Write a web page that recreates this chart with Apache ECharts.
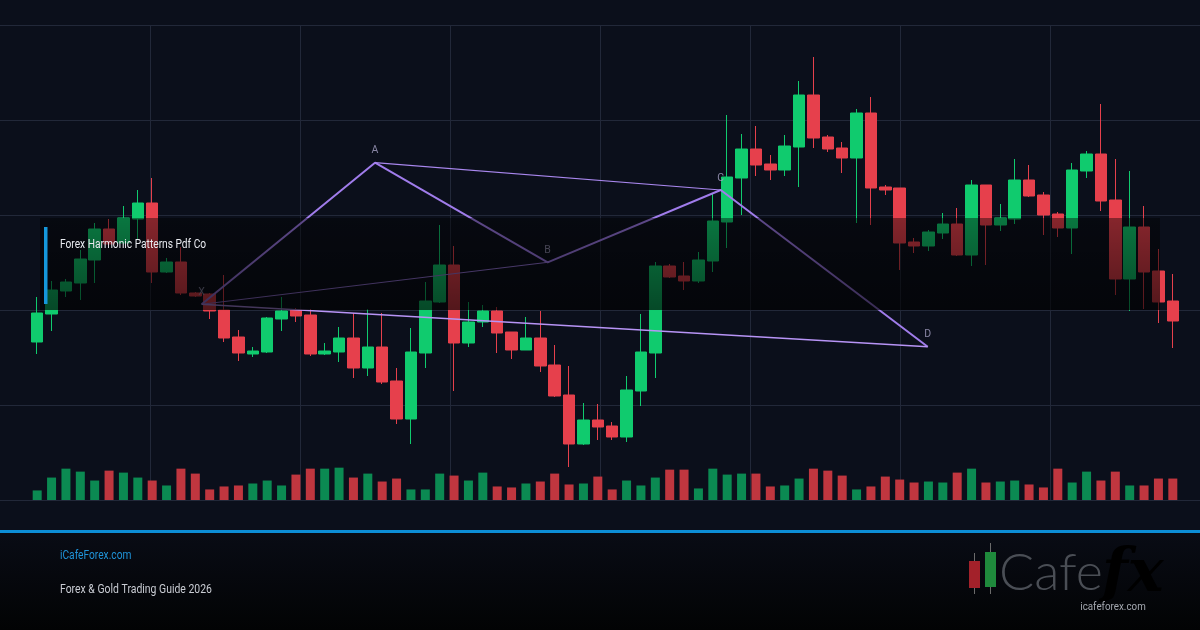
<!DOCTYPE html>
<html>
<head>
<meta charset="utf-8">
<script src="https://cdn.jsdelivr.net/npm/echarts@6/dist/echarts.min.js"></script>
<style>
  html, body { margin: 0; padding: 0; background: #0b0f1b; }
  #chart { width: 1200px; height: 630px; }
</style>
</head>
<body>
<div id="chart"></div>
<script>
// candle values (chart units, 0 = volume baseline, 475 = top gridline)
const opens  = [158,186,209,217,240,271,257,281,297,228,238,207,206,190,163,146,148,181,190,185,
                146,148,162,132,153,119,81,147,198,235,157,178,189,168,150,162,135,105,56,80,
                74,63,109,147,234,224,219,239,278,322,351,336,330,353,405,363,352,342,387,313,
                312,258,254,267,276,245,315,275,281,320,305,286,272,329,346,300,221,273,229,199];
const closes = [187,210,218,241,271,256,282,297,228,238,207,204,189,162,147,149,182,189,184,146,
                149,162,132,153,118,81,148,199,235,157,178,189,167,150,162,134,104,56,80,73,
                63,110,148,234,223,219,240,279,323,351,335,330,354,405,362,351,342,387,312,310,
                257,254,268,276,245,315,275,282,320,304,285,272,330,346,299,221,273,228,198,179];
const lows   = [146,169,203,200,217,254,255,260,217,227,205,203,181,158,139,143,147,169,178,144,
                145,138,122,124,116,76,56,132,197,109,153,173,147,141,150,128,103,33,55,60,
                60,58,94,122,222,210,217,228,252,285,324,320,324,313,352,348,327,277,275,305,
                230,247,249,261,244,234,235,269,276,303,265,263,246,322,289,205,189,191,177,152];
const highs  = [203,219,221,250,277,281,294,310,322,242,253,208,207,225,170,153,183,203,192,191,
                157,173,187,191,187,132,172,218,275,254,198,195,193,168,183,189,155,134,97,96,
                78,124,186,238,236,238,248,306,385,366,374,345,365,419,443,365,358,391,403,315,
                312,262,270,287,292,320,315,296,341,335,308,288,337,349,396,341,329,294,251,226];
const volumes = [29,68,95,86,59,89,83,68,59,44,95,80,32,41,44,50,59,44,77,95,
                 95,98,68,80,56,65,32,32,80,74,59,83,41,38,50,56,80,47,50,71,
                 32,59,44,68,92,92,35,95,77,80,80,41,44,65,95,89,74,32,41,71,
                 62,53,56,53,83,95,53,56,59,47,38,95,53,86,59,86,44,44,65,65];
const sessions = opens.map((_, i) => 'S' + (i + 1));
const gridColumns = ['0', '1', '2', '3', '4', '5', '6', '7', '8'];

// harmonic pattern pivots: bar position and price
const pivotNames  = ['X', 'A', 'B', 'C', 'D'];
const pivotBars   = [11.44, 23.5, 35.51, 47.55, 61.95];
const pivotPrices = [195.7, 337.3, 237.7, 310, 153.3];

const GREEN = '#10cb6e', RED = '#e6404c';
const VOL_GREEN = '#0b8a52', VOL_RED = '#c0363f';
const FONT = "Roboto, sans-serif";

const pivot = (i) => [pivotBars[i], pivotPrices[i]];

const chart = echarts.init(document.getElementById('chart'), null, { renderer: 'canvas' });

// narrow-looking text: Roboto squeezed horizontally
function label(text, x, y, size, fill, squeeze, align) {
  return {
    type: 'text', z: 101, silent: true, x: x, y: y,
    scaleX: squeeze, scaleY: 1,
    style: {
      text: text, fill: fill, font: size + 'px ' + FONT,
      align: align || 'left', textAlign: align || 'left',
      verticalAlign: 'middle', textVerticalAlign: 'middle'
    }
  };
}

const option = {
  backgroundColor: '#0b0f1b',
  animation: false,
  grid: [
    { left: 30, right: 20, top: 25, bottom: 130 },   // candles
    { left: 30, right: 20, top: 467, bottom: 130 },  // volume
    { left: 0, right: 0, top: 25, bottom: 130 }      // background grid lines
  ],
  xAxis: [
    { type: 'category', gridIndex: 0, data: sessions, show: false },
    { type: 'category', gridIndex: 1, data: sessions, show: false },
    { type: 'value', gridIndex: 0, min: -0.5, max: 79.5, show: false },
    {
      type: 'category', gridIndex: 2, data: gridColumns, boundaryGap: false,
      axisLine: { show: false }, axisTick: { show: false }, axisLabel: { show: false },
      splitLine: {
        show: true,
        interval: (i) => i > 0 && i < gridColumns.length - 1,
        lineStyle: { color: '#222839', width: 1 }
      }
    }
  ],
  yAxis: [
    { type: 'value', gridIndex: 0, min: 0, max: 475, show: false },
    { type: 'value', gridIndex: 1, min: 0, max: 100, show: false },
    {
      type: 'value', gridIndex: 2, min: 0, max: 5, interval: 1,
      axisLine: { show: false }, axisTick: { show: false }, axisLabel: { show: false },
      splitLine: { show: true, lineStyle: { color: '#222839', width: 1 } }
    }
  ],
  series: [
    {
      type: 'candlestick',
      xAxisIndex: 0, yAxisIndex: 0,
      barWidth: 12,
      data: opens.map((o, i) => [o, closes[i], lows[i], highs[i]]),
      itemStyle: {
        color: GREEN, color0: RED,
        borderColor: GREEN, borderColor0: RED,
        borderWidth: 1
      }
    },
    {
      type: 'bar',
      xAxisIndex: 1, yAxisIndex: 1,
      barWidth: 9,
      data: volumes.map((v, i) => ({
        value: v,
        itemStyle: { color: closes[i] >= opens[i] ? VOL_GREEN : VOL_RED }
      }))
    },
    {
      // X-A-B-C-D zigzag
      type: 'line', xAxisIndex: 2, yAxisIndex: 0,
      symbol: 'none', z: 5,
      data: pivotBars.map((_, i) => pivot(i)),
      lineStyle: { color: '#a07ceb', width: 2 }
    },
    {
      type: 'line', xAxisIndex: 2, yAxisIndex: 0, symbol: 'none', z: 5,
      data: [pivot(0), pivot(2)],
      lineStyle: { color: '#9a78e0', width: 1 }
    },
    {
      type: 'line', xAxisIndex: 2, yAxisIndex: 0, symbol: 'none', z: 5,
      data: [pivot(1), pivot(3)],
      lineStyle: { color: '#a987ee', width: 1.2 }
    },
    {
      type: 'line', xAxisIndex: 2, yAxisIndex: 0, symbol: 'none', z: 5,
      data: [pivot(0), pivot(4)],
      lineStyle: { color: '#b894f6', width: 1.4 }
    },
    {
      type: 'scatter', xAxisIndex: 2, yAxisIndex: 0, z: 6,
      symbolSize: 1,
      itemStyle: { color: 'rgba(0,0,0,0)' },
      data: pivotBars.map((_, i) => pivot(i)),
      label: {
        show: true, position: 'top', distance: 6,
        formatter: (p) => pivotNames[p.dataIndex],
        color: '#a8a3c6', fontSize: 10.5, fontFamily: 'Roboto'
      }
    }
  ],
  graphic: [
    {
      type: 'rect', z: 100, silent: true,
      shape: { x: 40, y: 218, width: 1120, height: 92 },
      style: {
        fill: new echarts.graphic.LinearGradient(0, 0, 0, 1, [
          { offset: 0, color: 'rgba(0,0,0,0.42)' },
          { offset: 1, color: 'rgba(0,0,0,0.64)' }
        ])
      }
    },
    {
      type: 'rect', z: 101, silent: true,
      shape: { x: 44, y: 227, width: 3.5, height: 77 },
      style: { fill: '#1597da' }
    },
    label('Forex Harmonic Patterns Pdf Co', 60, 245, 12.5, '#e8eaf0', 0.815),
    {
      type: 'rect', z: 90, silent: true,
      shape: { x: 0, y: 533, width: 1200, height: 97 },
      style: {
        fill: new echarts.graphic.LinearGradient(0, 0, 0, 1, [
          { offset: 0, color: '#090c15' },
          { offset: 1, color: '#020304' }
        ])
      }
    },
    {
      type: 'rect', z: 101, silent: true,
      shape: { x: 0, y: 530, width: 1200, height: 3 },
      style: { fill: '#0c8ed6' }
    },
    label('iCafeForex.com', 60, 556, 12, '#1f93d8', 0.85),
    label('Forex & Gold Trading Guide 2026', 60, 590, 12, '#c9ccd3', 0.87),
    // logo
    { type: 'line', z: 101, silent: true, shape: { x1: 974.5, y1: 553, x2: 974.5, y2: 594 }, style: { stroke: '#6b6b6b', lineWidth: 1 } },
    { type: 'rect', z: 102, silent: true, shape: { x: 969, y: 561, width: 11, height: 27 }, style: { fill: '#a3212a' } },
    { type: 'line', z: 101, silent: true, shape: { x1: 990.5, y1: 543, x2: 990.5, y2: 594 }, style: { stroke: '#6b6b6b', lineWidth: 1 } },
    { type: 'rect', z: 102, silent: true, shape: { x: 985, y: 552, width: 11, height: 35 }, style: { fill: '#1f8a3c' } },
    {
      type: 'text', z: 101, silent: true, x: 999, y: 573,
      style: {
        text: 'Cafe', fill: '#4a4e55',
        font: "300 52px Lato, Roboto, sans-serif",
        verticalAlign: 'middle', textVerticalAlign: 'middle'
      }
    },
    {
      type: 'text', z: 101, silent: true, x: 1102, y: 575,
      style: {
        text: 'fx', fill: new echarts.graphic.LinearGradient(0, 0, 1, 1, [
          { offset: 0, color: '#cdb07a' },
          { offset: 1, color: '#9c8050' }
        ]),
        font: "italic bold 60px 'DejaVu Serif', serif",
        verticalAlign: 'middle', textVerticalAlign: 'middle'
      }
    },
    label('icafeforex.com', 1113, 607, 11, '#a4a8b0', 0.89, 'center')
  ]
};

chart.setOption(option);
</script>
</body>
</html>
